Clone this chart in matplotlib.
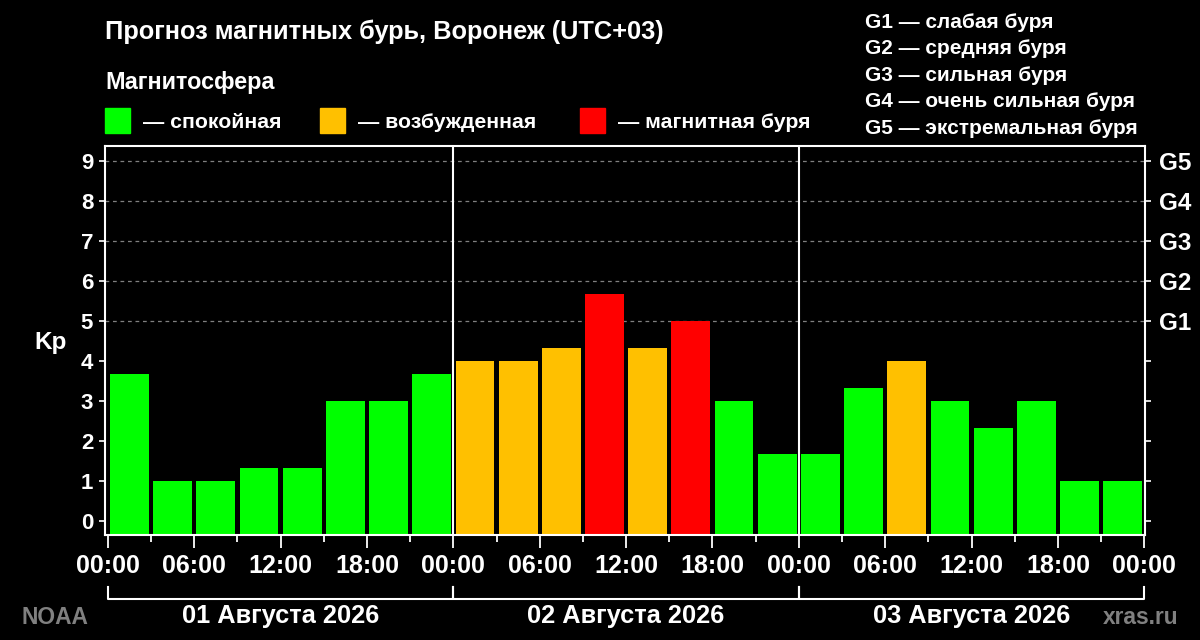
import matplotlib
matplotlib.use("Agg")
import matplotlib.pyplot as plt
import matplotlib.patches as mpatches
import matplotlib.transforms as mtransforms
import numpy as np

plt.rcParams['font.family'] = ['Liberation Sans', 'DejaVu Sans']
plt.rcParams['font.weight'] = 'bold'

# data
kp_values = [3.67, 1, 1, 1.33, 1.33, 3, 3, 3.67,
             4, 4, 4.33, 5.67, 4.33, 5, 3, 1.67,
             1.67, 3.33, 4, 3, 2.33, 3, 1, 1]
hours = np.arange(0, 72, 3)
day_starts = [0, 24, 48]
day_labels = ['01 Августа 2026', '02 Августа 2026', '03 Августа 2026']
time_labels = ['00:00', '06:00', '12:00', '18:00'] * 3 + ['00:00']
g_levels = [5, 6, 7, 8, 9]
g_labels = ['G1', 'G2', 'G3', 'G4', 'G5']
g_desc = ['слабая буря', 'средняя буря', 'сильная буря',
          'очень сильная буря', 'экстремальная буря']
legend_labels = ['спокойная', 'возбужденная', 'магнитная буря']
legend_colors = ['#00ff00', '#ffc000', '#ff0000']

W, H = 1200, 640
GREY = '#808080'


def fx(px):
    return px / W


def fy(py):
    return 1 - py / H


def kp_color(v):
    if v < 4:
        return legend_colors[0]
    if v < 5:
        return legend_colors[1]
    return legend_colors[2]


fig = plt.figure(figsize=(12, 6.4), dpi=100, facecolor='black')
ax = fig.add_axes([fx(105), fy(535), (1145 - 105) / W, (535 - 146) / H])
ax.set_facecolor('black')

ybot = -0.35
ax.set_ylim(ybot, 9.375)
ax.set_xlim(-0.2, 72.05)

# dashed guide lines for storm levels
for lv in g_levels:
    ax.axhline(lv, color=GREY, lw=0.9, ls=(0, (3, 3)), zorder=0)

heights = [v - ybot for v in kp_values]
ax.bar(hours + 1.5, heights, width=2.7, bottom=ybot,
       color=[kp_color(v) for v in kp_values], zorder=2)

for d in day_starts[1:]:
    ax.axvline(d, color='white', lw=1.5, zorder=3)

for s in ax.spines.values():
    s.set_color('white')
    s.set_linewidth(1.5)

ax.set_xticks(np.arange(0, 73, 6))
ax.set_xticklabels(time_labels)
ax.set_xticks(np.arange(3, 72, 6), minor=True)
ax.tick_params(axis='x', which='major', colors='white', length=9.5, width=1.3,
               labelsize=18, pad=4)
ax.tick_params(axis='x', which='minor', colors='white', length=5, width=1.3)

ax.set_yticks(range(10))
ax.tick_params(axis='y', colors='white', length=4, width=1.2, labelsize=16, pad=4.5)

ax2 = ax.twinx()
ax2.set_ylim(ax.get_ylim())
ax2.set_yticks(range(10))
ax2.set_yticklabels([''] * 5 + g_labels)
ax2.tick_params(axis='y', colors='white', length=4, width=1.2, labelsize=17.5, pad=6)
for s in ax2.spines.values():
    s.set_visible(False)

fig.text(fx(51), fy(342), 'Kp', color='white', size=17.5, ha='center', va='center')

# day brackets under the time axis
tr = mtransforms.blended_transform_factory(ax.transData, fig.transFigure)
for i, d in enumerate(day_starts):
    ax.plot([d, d, d + 24, d + 24], [fy(587), fy(599), fy(599), fy(587)],
            color='white', lw=1.5, transform=tr, clip_on=False)
    fig.text(d + 12, fy(623), day_labels[i], color='white', size=18.3,
             ha='center', va='baseline', transform=tr)

fig.text(fx(21), fy(624), 'NOAA', color=GREY, size=16.4, va='baseline')
fig.text(fx(1178), fy(624), 'xras.ru', color=GREY, size=16.4, va='baseline', ha='right')

# headings
fig.text(fx(105), fy(39), 'Прогноз магнитных бурь, Воронеж (UTC+03)',
         color='white', size=18.3, va='baseline')
fig.text(fx(105), fy(88.5), 'Магнитосфера', color='white', size=16.8, va='baseline')

leg_x = [105, 320, 580]
for x0, lab, col in zip(leg_x, legend_labels, legend_colors):
    fig.patches.append(mpatches.Rectangle((fx(x0), fy(133)), 25 / W, 25 / H,
                                          color=col, transform=fig.transFigure))
    fig.text(fx(x0 + 38), fy(128), '— ' + lab, color='white', size=15.3, va='baseline')

for i, (g, desc) in enumerate(zip(g_labels, g_desc)):
    fig.text(fx(865), fy(28 + 26.4 * i), g + ' — ' + desc, color='white',
             size=15, va='baseline')

fig.savefig('out.png', dpi=100, facecolor='black')
